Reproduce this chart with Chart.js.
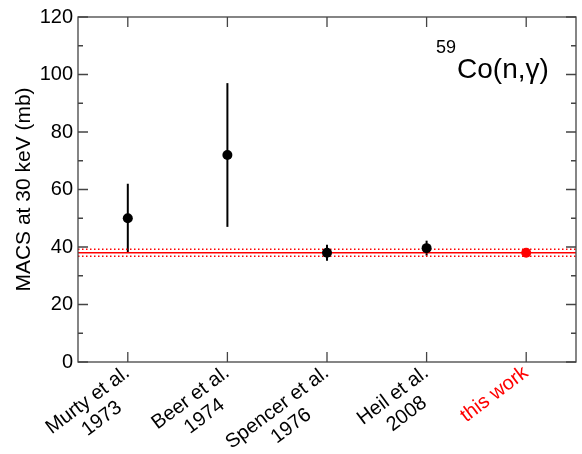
<!DOCTYPE html>
<html lang="en">
<head>
    <meta charset="UTF-8">
    <title>59Co(n,γ) MACS at 30 keV</title>
    <script src="https://cdn.jsdelivr.net/npm/chart.js"></script>
    <style>
        html, body { margin: 0; padding: 0; background: #fff; }
        .chart-box { position: relative; width: 582px; height: 454px; }
    </style>
</head>
<body>

    <div class="chart-box">
        <canvas id="macsChart" width="582" height="454"></canvas>
    </div>

    <script>
        // measurements, one entry per x position (multi-line labels)
        const measurements = [
            ["Murty et al.", "1973"],
            ["Beer et al.", "1974"],
            ["Spencer et al.", "1976"],
            ["Heil et al.", "2008"],
            ["this work"]
        ];
        const macsValues = [50, 72, 38, 39.6, 38];   // mb
        const macsErrors = [12, 25, 2.8, 2.6, 1.2];  // mb
        const pointColors = ["#000", "#000", "#000", "#000", "#ff0000"];
        const yTicks = [0, 20, 40, 60, 80, 100, 120];

        const FONT = '"Liberation Sans", Arial, Helvetica, sans-serif';
        const AXIS_COLOR = "#444";
        const THIS_WORK = measurements.length - 1;
        const LABEL_ANGLE = 37 * Math.PI / 180;

        // frame + inward tick marks on all four sides
        const frameTicks = {
            id: "frameTicks",
            afterDraw(chart) {
                const { ctx, chartArea: a, scales: { x, y } } = chart;
                ctx.save();
                ctx.strokeStyle = AXIS_COLOR;
                ctx.lineWidth = 1.3;
                ctx.strokeRect(a.left, a.top, a.right - a.left, a.bottom - a.top);
                ctx.beginPath();
                const step = yTicks[1] - yTicks[0];
                for (let v = yTicks[0]; v <= yTicks[yTicks.length - 1]; v += step / 2) {
                    const py = y.getPixelForValue(v);
                    const len = (v % step === 0) ? 10 : 5;
                    ctx.moveTo(a.left, py); ctx.lineTo(a.left + len, py);
                    ctx.moveTo(a.right, py); ctx.lineTo(a.right - len, py);
                }
                measurements.forEach((m, i) => {
                    const px = x.getPixelForValue(i);
                    ctx.moveTo(px, a.bottom); ctx.lineTo(px, a.bottom - 10);
                    ctx.moveTo(px, a.top); ctx.lineTo(px, a.top + 10);
                });
                ctx.stroke();
                ctx.restore();
            }
        };

        // error bars for the earlier measurements, band for this work
        const errorBars = {
            id: "errorBars",
            beforeDatasetsDraw(chart) {
                const { ctx, chartArea: a, scales: { x, y } } = chart;
                ctx.save();
                ctx.strokeStyle = "#000";
                ctx.lineWidth = 2;
                macsValues.forEach((v, i) => {
                    if (i === THIS_WORK) return;
                    const px = x.getPixelForValue(i);
                    ctx.beginPath();
                    ctx.moveTo(px, y.getPixelForValue(v - macsErrors[i]));
                    ctx.lineTo(px, y.getPixelForValue(v + macsErrors[i]));
                    ctx.stroke();
                });

                const v = macsValues[THIS_WORK], e = macsErrors[THIS_WORK];
                ctx.strokeStyle = "#ff0000";
                ctx.lineWidth = 1.5;
                let py = y.getPixelForValue(v);
                ctx.beginPath();
                ctx.moveTo(a.left, py); ctx.lineTo(a.right, py);
                ctx.stroke();
                ctx.setLineDash([1.5, 2.5]);
                [v - e, v + e].forEach(b => {
                    py = y.getPixelForValue(b);
                    ctx.beginPath();
                    ctx.moveTo(a.left, py); ctx.lineTo(a.right, py);
                    ctx.stroke();
                });
                ctx.restore();
            }
        };

        // rotated, centred two-line category labels; anchored at the
        // baseline end of the first line, just right of the tick
        const slantLabels = {
            id: "slantLabels",
            afterDraw(chart) {
                const { ctx, chartArea: a, scales: { x } } = chart;
                ctx.save();
                ctx.font = "20px " + FONT;
                ctx.textBaseline = "alphabetic";
                ctx.textAlign = "center";
                measurements.forEach((lines, i) => {
                    const w = Math.max(...lines.map(l => ctx.measureText(l).width));
                    ctx.save();
                    ctx.translate(x.getPixelForValue(i) + 3, a.bottom + 13);
                    ctx.rotate(-LABEL_ANGLE);
                    ctx.fillStyle = i === THIS_WORK ? "#ff0000" : "#000";
                    lines.forEach((l, j) => ctx.fillText(l, -w / 2, j * 23));
                    ctx.restore();
                });
                ctx.restore();
            }
        };

        const reactionLabel = {
            id: "reactionLabel",
            afterDraw(chart) {
                const { ctx, chartArea: a } = chart;
                ctx.save();
                ctx.fillStyle = "#000";
                ctx.textBaseline = "alphabetic";
                ctx.textAlign = "left";
                const x0 = a.right - 140;
                ctx.font = "18px " + FONT;
                ctx.fillText("59", x0, a.top + 36);
                const sw = ctx.measureText("59").width;
                ctx.font = "28px " + FONT;
                ctx.fillText("Co(n,γ)", x0 + sw + 1, a.top + 61);
                ctx.restore();
            }
        };

        new Chart(document.getElementById("macsChart"), {
            type: "line",
            data: {
                labels: measurements.map(m => m.join(" ")),
                datasets: [{
                    data: macsValues,
                    showLine: false,
                    pointRadius: 5,
                    pointBorderWidth: 0,
                    pointBackgroundColor: pointColors,
                    pointBorderColor: pointColors
                }]
            },
            options: {
                responsive: false,
                animation: false,
                layout: { padding: { top: 14, right: 6, left: 0, bottom: 0 } },
                plugins: { legend: { display: false }, tooltip: { enabled: false } },
                scales: {
                    x: {
                        offset: true,
                        grid: { display: false, drawTicks: false },
                        border: { display: false },
                        ticks: { display: false },
                        afterFit: s => { s.height = 92; }
                    },
                    y: {
                        min: yTicks[0],
                        max: yTicks[yTicks.length - 1],
                        afterBuildTicks: s => { s.ticks = yTicks.map(v => ({ value: v })); },
                        grid: { display: false, drawTicks: false },
                        border: { display: false },
                        ticks: { color: "#000", padding: 5, font: { family: FONT, size: 20 } },
                        title: {
                            display: true,
                            text: "MACS at 30 keV (mb)",
                            color: "#000",
                            font: { family: FONT, size: 21 },
                            padding: { top: 12 }
                        },
                        afterFit: s => { s.width = 78; }
                    }
                }
            },
            plugins: [errorBars, frameTicks, slantLabels, reactionLabel]
        });
    </script>

</body>
</html>
